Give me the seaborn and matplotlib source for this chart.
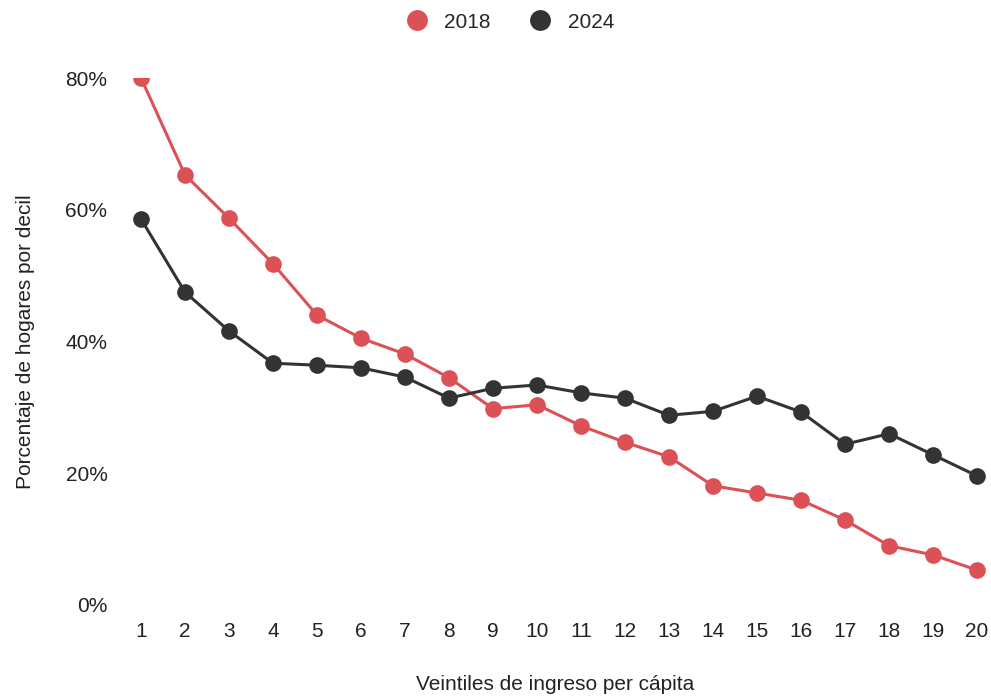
import matplotlib.pyplot as plt
import seaborn as sns
import pandas as pd
from matplotlib.lines import Line2D

# Datos: porcentaje de hogares por veintil
veintiles = list(range(1, 21))
serie_2018 = [80.0, 65.3, 58.7, 51.8, 44.0, 40.5, 38.1, 34.5, 29.8, 30.4,
              27.2, 24.7, 22.5, 18.1, 17.0, 15.9, 12.9, 9.0, 7.6, 5.3]
serie_2024 = [58.6, 47.5, 41.6, 36.7, 36.4, 36.0, 34.6, 31.4, 32.9, 33.4,
              32.2, 31.4, 28.8, 29.4, 31.7, 29.3, 24.4, 26.0, 22.8, 19.6]
anios = ['2018', '2024']

df = pd.DataFrame({
    'veintil': veintiles * 2,
    'valor': serie_2018 + serie_2024,
    'anio': [anios[0]] * 20 + [anios[1]] * 20,
})

colores = {'2018': '#db5156', '2024': '#333333'}

sns.set_style('white')
plt.rcParams['font.family'] = ['Liberation Sans', 'DejaVu Sans']
plt.rcParams['font.size'] = 15

fig = plt.figure(figsize=(9.91, 6.97), dpi=100)
ax = fig.add_axes([120 / 991, 92 / 697, 870 / 991, 527 / 697])

sns.lineplot(data=df, x='veintil', y='valor', hue='anio', palette=colores,
             marker='o', markersize=12, markeredgewidth=0, linewidth=2.2,
             legend=False, ax=ax)
# el punto en 80% queda cortado por el borde superior como en el original
for ln in ax.lines:
    ln.set_clip_on(True)

ax.set_xlim(0.523, 20.295)
ax.set_ylim(0, 80)
ax.set_xticks(veintiles)
ax.set_yticks([0, 20, 40, 60, 80])
ax.set_yticklabels(['0%', '20%', '40%', '60%', '80%'])
ax.tick_params(axis='both', length=0, labelsize=15, colors='#222222')
ax.tick_params(axis='x', pad=12)
ax.tick_params(axis='y', pad=9)
sns.despine(ax=ax, left=True, bottom=True)

ax.set_xlabel('Veintiles de ingreso per cápita', fontsize=15, labelpad=25, color='#222222')
ax.set_ylabel('Porcentaje de hogares por decil', fontsize=15, labelpad=22, color='#222222')

# leyenda arriba, solo con los círculos
handles = [Line2D([], [], linestyle='none', marker='o', markersize=15,
                  markerfacecolor=colores[a], markeredgewidth=0) for a in anios]
fig.legend(handles, anios, loc='center', bbox_to_anchor=(505 / 991, 1 - 22 / 697),
           ncol=2, frameon=False, fontsize=15, handletextpad=0.3, columnspacing=1.4)

plt.savefig('out.png', dpi=100)
